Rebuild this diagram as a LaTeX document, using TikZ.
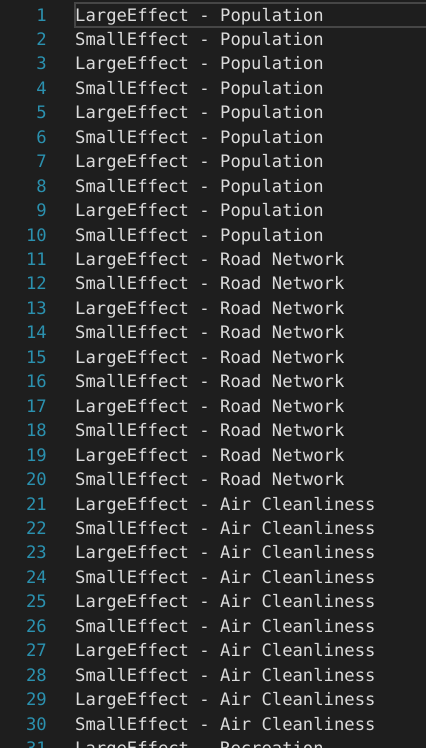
\documentclass[tikz,border=0pt]{standalone}
\usepackage{fontspec}
\setmonofont{DejaVu Sans Mono}
\definecolor{editorbg}{HTML}{1E1E1E}
\definecolor{linenum}{HTML}{2B91AF}
\definecolor{codetext}{HTML}{DCDCDC}
\definecolor{curline}{HTML}{464646}
\begin{document}
\begin{tikzpicture}[x=1pt,y=-1pt,
  codeline/.style={anchor=base west,inner sep=0pt,text=codetext,font=\ttfamily\fontsize{17.2}{20}\selectfont},
  numline/.style={anchor=base east,inner sep=0pt,text=linenum,font=\ttfamily\fontsize{17.2}{20}\selectfont}]
\path[use as bounding box,clip] (0,0) rectangle (426,748);
\fill[editorbg] (0,0) rectangle (426,748);
\draw[curline,line width=2pt] (74.5,3) rectangle (430,27);
\foreach \n/\txt in {1/LargeEffect - Population,2/SmallEffect - Population,3/LargeEffect - Population,4/SmallEffect - Population,5/LargeEffect - Population,6/SmallEffect - Population,7/LargeEffect - Population,8/SmallEffect - Population,9/LargeEffect - Population,10/SmallEffect - Population,11/LargeEffect - Road Network,12/SmallEffect - Road Network,13/LargeEffect - Road Network,14/SmallEffect - Road Network,15/LargeEffect - Road Network,16/SmallEffect - Road Network,17/LargeEffect - Road Network,18/SmallEffect - Road Network,19/LargeEffect - Road Network,20/SmallEffect - Road Network,21/LargeEffect - Air Cleanliness,22/SmallEffect - Air Cleanliness,23/LargeEffect - Air Cleanliness,24/SmallEffect - Air Cleanliness,25/LargeEffect - Air Cleanliness,26/SmallEffect - Air Cleanliness,27/LargeEffect - Air Cleanliness,28/SmallEffect - Air Cleanliness,29/LargeEffect - Air Cleanliness,30/SmallEffect - Air Cleanliness,31/LargeEffect - Recreation}{
  \pgfmathsetmacro{\yb}{21+(\n-1)*24.45}
  \node[numline] (num\n) at (47,\yb) {\n};
  \node[codeline] (line\n) at (75,\yb) {\txt};
}
\end{tikzpicture}
\end{document}
